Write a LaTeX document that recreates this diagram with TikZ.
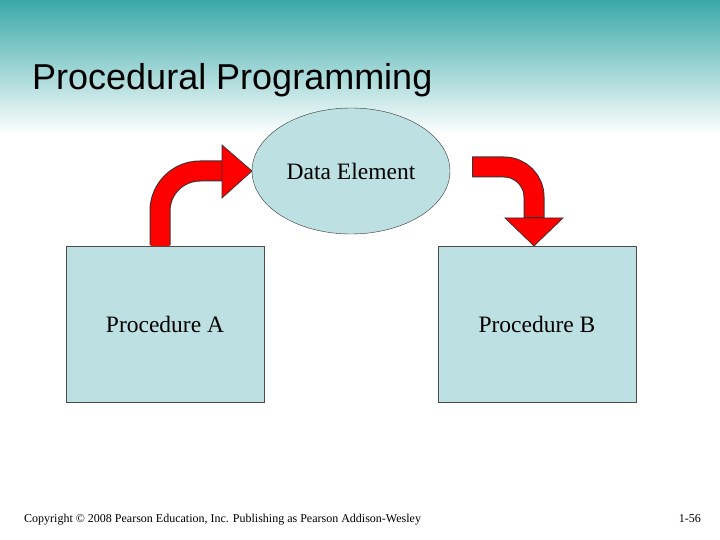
\documentclass[tikz,border=0pt]{standalone}
\usepackage{fontspec}
\setmainfont{Liberation Serif}
\newfontfamily\titlefont{Liberation Sans}
\usetikzlibrary{shapes.geometric}
\definecolor{boxfill}{HTML}{BDE0E3}
\definecolor{headteal}{HTML}{3AA9A9}
\definecolor{arrowred}{HTML}{FF0000}
\tikzset{
  procbox/.style={draw=black!70,fill=boxfill,minimum width=198pt,minimum height=156pt,inner sep=0pt,font=\fontsize{23.5}{26}\selectfont},
  databox/.style={ellipse,draw=black!80,fill=boxfill,minimum width=198pt,minimum height=126pt,font=\fontsize{23.5}{26}\selectfont},
  shaftout/.style={draw=black!80,line width=21pt},
  shaftin/.style={draw=arrowred,line width=19pt},
  headtip/.style={fill=arrowred,draw=black!80,line width=0.7pt}
}
\begin{document}
\begin{tikzpicture}[x=1pt,y=-1pt]
  \useasboundingbox (0,0) rectangle (720,540);
  % header band
  \shade[top color=headteal,bottom color=white] (0,0) rectangle (720,135);
  \node[anchor=base west,font=\titlefont\fontsize{36}{40}\selectfont,inner sep=0pt] (title) at (32,90) {Procedural Programming};
  % data and procedures
  \node[databox] (data) at (351,171) {Data Element};
  \node[procbox] (procA) at (165,324) {Procedure A};
  \node[procbox] (procB) at (537,324) {Procedure B};
  % left arrow
  \coordinate (la1) at (160,245);
  \coordinate (la2) at (222,171);
  \draw[shaftout] (la1) -- (160,211) arc[start angle=180,end angle=270,radius=40] -- (la2);
  \draw[shaftin] ([yshift=-1pt]la1) -- (160,211) arc[start angle=180,end angle=270,radius=40] -- ([xshift=1pt]la2);
  \filldraw[headtip] (222,145) -- (252,171) -- (222,198) -- cycle;
  % right arrow
  \coordinate (ra1) at (472,167);
  \coordinate (ra2) at (534,218);
  \draw[shaftout] (ra1) -- (504,167) arc[start angle=270,end angle=360,radius=30] -- (ra2);
  \draw[shaftin] ([xshift=1pt]ra1) -- (504,167) arc[start angle=270,end angle=360,radius=30] -- ([yshift=1pt]ra2);
  \filldraw[headtip] (505,218) -- (563,218) -- (534,246) -- cycle;
  % footer
  \node[anchor=base west,font=\fontsize{12}{14}\selectfont,inner sep=0pt] (copy) at (24,522) {Copyright \textcopyright{} 2008 Pearson Education, Inc. Publishing as Pearson Addison-Wesley};
  \node[anchor=base east,font=\fontsize{12}{14}\selectfont,inner sep=0pt] (page) at (701,522) {1-56};
\end{tikzpicture}
\end{document}
